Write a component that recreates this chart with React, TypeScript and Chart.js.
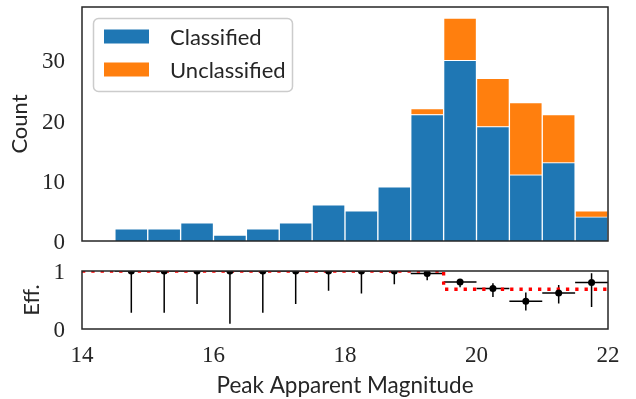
import React, { useEffect, useRef } from 'react';
import { Chart, registerables } from 'chart.js';

Chart.register(...registerables);

// ---- data ----
const binCenters = [14.75, 15.25, 15.75, 16.25, 16.75, 17.25, 17.75, 18.25, 18.75, 19.25, 19.75, 20.25, 20.75, 21.25, 21.75];
const binHalfWidth = 0.25;
const classified = [2, 2, 3, 1, 2, 3, 6, 5, 9, 21, 30, 19, 11, 13, 4];
const unclassified = [0, 0, 0, 0, 0, 0, 0, 0, 0, 1, 7, 8, 12, 8, 1];
const efficiency = [1, 1, 1, 1, 1, 1, 1, 1, 1, 0.955, 0.81, 0.7, 0.48, 0.62, 0.8];
const effLower = [0.28, 0.28, 0.43, 0.09, 0.28, 0.43, 0.66, 0.61, 0.77, 0.84, 0.72, 0.55, 0.32, 0.44, 0.38];
const effUpper = [1, 1, 1, 1, 1, 1, 1, 1, 1, 1, 0.86, 0.79, 0.63, 0.76, 0.96];
const stepX = [14, 19.5, 22];
const stepY = [1, 0.685, 0.685];
const xTicks = [14, 16, 18, 20, 22];
const countTicks = [0, 10, 20, 30];
const effTicks = [0, 1];
const xMin = 14;
const xMax = 22;
const countMax = 38.85;

const TEXT = '#262626';
const SANS = 'Lato';
const SERIF = 'Liberation Serif';

const noGrid = { display: false, drawTicks: false, tickLength: 0 };

const framePlugin = {
  id: 'frame',
  afterDraw(chart: any) {
    const { ctx, chartArea: a } = chart;
    ctx.save();
    ctx.strokeStyle = TEXT;
    ctx.lineWidth = 1.5;
    ctx.strokeRect(a.left, a.top, a.right - a.left, a.bottom - a.top);
    ctx.restore();
  },
};

const legendPlugin = {
  id: 'boxLegend',
  afterDraw(chart: any) {
    const { ctx } = chart;
    ctx.save();
    ctx.beginPath();
    (ctx as any).roundRect(93.5, 18.5, 199, 73, 5);
    ctx.fillStyle = 'rgba(255,255,255,0.85)';
    ctx.fill();
    ctx.strokeStyle = '#cccccc';
    ctx.lineWidth = 1.5;
    ctx.stroke();
    chart.data.datasets.forEach((ds: any, i: number) => {
      const cy = 36.5 + i * 33;
      ctx.fillStyle = ds.backgroundColor;
      ctx.fillRect(104, cy - 7, 45, 14);
      ctx.fillStyle = TEXT;
      ctx.font = `22px ${SANS}`;
      ctx.textBaseline = 'alphabetic';
      ctx.textAlign = 'left';
      ctx.fillText(ds.label, 170, cy + 8.5);
    });
    ctx.restore();
  },
};

const errorBarPlugin = {
  id: 'errorBars',
  beforeDatasetsDraw(chart: any) {
    const { ctx, chartArea: a, scales } = chart;
    const xs = scales.x;
    const ys = scales.y;
    ctx.save();
    ctx.beginPath();
    ctx.rect(a.left, a.top, a.right - a.left, a.bottom - a.top);
    ctx.clip();
    ctx.strokeStyle = '#000';
    ctx.lineWidth = 1.5;
    binCenters.forEach((c, i) => {
      const px = xs.getPixelForValue(c);
      const py = ys.getPixelForValue(efficiency[i]);
      ctx.beginPath();
      ctx.moveTo(px, ys.getPixelForValue(effLower[i]));
      ctx.lineTo(px, ys.getPixelForValue(effUpper[i]));
      ctx.moveTo(xs.getPixelForValue(c - binHalfWidth), py);
      ctx.lineTo(xs.getPixelForValue(c + binHalfWidth), py);
      ctx.stroke();
    });
    ctx.restore();
  },
};

const fixY = (s: any) => {
  s.width = 82;
  s.paddingTop = 0;
  s.paddingBottom = 0;
};

const fixX = (s: any) => {
  s.height = 70;
  s.paddingLeft = 0;
  s.paddingRight = 0;
};

export default function App() {
  const topRef = useRef<HTMLCanvasElement>(null);
  const botRef = useRef<HTMLCanvasElement>(null);

  useEffect(() => {
    const top = new Chart(topRef.current as HTMLCanvasElement, {
      type: 'bar',
      data: {
        datasets: [
          {
            label: 'Classified',
            data: binCenters.map((x, i) => ({ x, y: classified[i] })),
            backgroundColor: '#1f77b4',
            borderColor: '#ffffff',
            borderWidth: 1,
            categoryPercentage: 1,
            barPercentage: 1,
          },
          {
            label: 'Unclassified',
            data: binCenters.map((x, i) => ({ x, y: unclassified[i] })),
            backgroundColor: '#ff7f0e',
            borderColor: '#ffffff',
            borderWidth: 1,
            categoryPercentage: 1,
            barPercentage: 1,
          },
        ],
      },
      options: {
        responsive: false,
        animation: false,
        devicePixelRatio: 1,
        layout: { padding: { left: 0, right: 28, top: 7, bottom: 9 } },
        plugins: { legend: { display: false }, tooltip: { enabled: false } },
        scales: {
          x: {
            type: 'linear',
            min: xMin,
            max: xMax,
            offset: false,
            stacked: true,
            display: false,
          },
          y: {
            type: 'linear',
            min: 0,
            max: countMax,
            stacked: true,
            grid: noGrid,
            border: { display: false },
            afterBuildTicks: (s: any) => {
              s.ticks = countTicks.map((v) => ({ value: v }));
            },
            afterFit: fixY,
            ticks: {
              padding: 17,
              color: TEXT,
              labelOffset: 2,
              font: { family: SERIF, size: 23 },
            },
            title: {
              display: true,
              text: 'Count',
              color: TEXT,
              font: { family: SANS, size: 22, lineHeight: 1 },
              padding: { top: 9, bottom: 0 },
            },
          },
        },
      } as any,
      plugins: [framePlugin, legendPlugin],
    });

    const bot = new Chart(botRef.current as HTMLCanvasElement, {
      type: 'scatter',
      data: {
        datasets: [
          {
            type: 'scatter',
            label: 'Efficiency',
            data: binCenters.map((x, i) => ({ x, y: efficiency[i] })),
            backgroundColor: '#000000',
            borderColor: '#000000',
            pointRadius: 3.5,
            borderWidth: 0,
            clip: 0,
          } as any,
          {
            type: 'line',
            label: 'Model',
            data: stepX.map((x, i) => ({ x, y: stepY[i] })),
            stepped: true,
            borderColor: '#ff0000',
            borderWidth: 3.3,
            borderDash: [3.3, 6],
            pointRadius: 0,
            fill: false,
            clip: 0,
          } as any,
        ],
      },
      options: {
        responsive: false,
        animation: false,
        devicePixelRatio: 1,
        layout: { padding: { left: 0, right: 28, top: 21, bottom: 0 } },
        plugins: { legend: { display: false }, tooltip: { enabled: false } },
        scales: {
          x: {
            type: 'linear',
            min: xMin,
            max: xMax,
            grid: noGrid,
            border: { display: false },
            afterBuildTicks: (s: any) => {
              s.ticks = xTicks.map((v) => ({ value: v }));
            },
            afterFit: fixX,
            ticks: {
              padding: 13,
              color: TEXT,
              maxRotation: 0,
              font: { family: SERIF, size: 23 },
            },
            title: {
              display: true,
              text: 'Peak Apparent Magnitude',
              color: TEXT,
              font: { family: SANS, size: 22.5, lineHeight: 1 },
              padding: { top: 0, bottom: 2 },
            },
          },
          y: {
            type: 'linear',
            min: 0,
            max: 1,
            grid: noGrid,
            border: { display: false },
            afterBuildTicks: (s: any) => {
              s.ticks = effTicks.map((v) => ({ value: v }));
            },
            afterFit: fixY,
            ticks: {
              padding: 17,
              color: TEXT,
              labelOffset: 1.5,
              font: { family: SERIF, size: 23 },
            },
            title: {
              display: true,
              text: 'Eff.',
              color: TEXT,
              font: { family: SANS, size: 22, lineHeight: 1 },
              padding: { top: 21, bottom: 0 },
            },
          },
        },
      } as any,
      plugins: [errorBarPlugin, framePlugin],
    });

    return () => {
      top.destroy();
      bot.destroy();
    };
  }, []);

  return (
    <div style={{ position: 'absolute', left: 0, top: 0, width: 636, height: 399, background: '#ffffff' }}>
      <canvas ref={topRef} width={636} height={250} style={{ position: 'absolute', left: 0, top: 0, width: 636, height: 250 }} />
      <canvas ref={botRef} width={636} height={149} style={{ position: 'absolute', left: 0, top: 250, width: 636, height: 149 }} />
    </div>
  );
}
